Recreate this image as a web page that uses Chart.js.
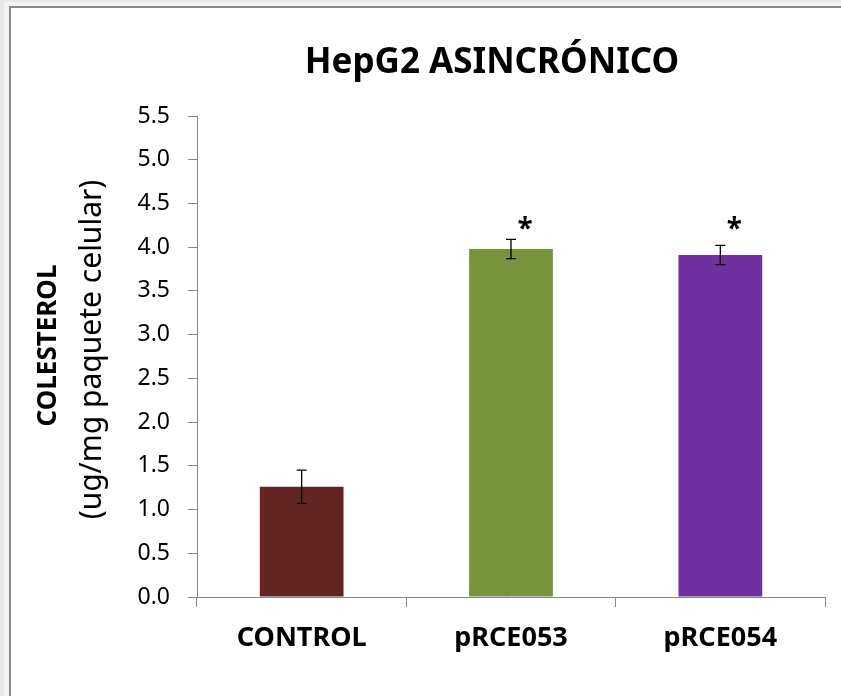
<!DOCTYPE html>
<html>
<head>
<meta charset="utf-8">
<script src="https://cdn.jsdelivr.net/npm/chart.js@4.4.1/dist/chart.umd.min.js"></script>
<style>
  html, body { margin: 0; padding: 0; overflow: hidden; background: #f2f2f2; }
  #chart { display: block; }
</style>
</head>
<body>
<canvas id="chart" width="841" height="696"></canvas>
<script>
// data
const categories = ['CONTROL', 'pRCE053', 'pRCE054'];
const values = [1.26, 3.98, 3.91];
const errors = [0.19, 0.11, 0.11];
const significance = ['', '*', '*'];

const barColors = ['#632523', '#77933c', '#7030a0'];
const FONT = "'Noto Sans', sans-serif";

// white sheet with a grey frame on its top and left edges
const sheet = {
    id: 'sheet',
    beforeDraw(chart) {
        const ctx = chart.ctx;
        ctx.save();
        ctx.fillStyle = '#e9e9e9';
        ctx.fillRect(0, 0, chart.width, chart.height);
        ctx.fillStyle = '#f4f4f4';
        ctx.fillRect(4, 2, chart.width, chart.height);
        ctx.fillStyle = '#fff';
        ctx.fillRect(10, 7, chart.width, chart.height);
        ctx.strokeStyle = '#8a8a8a';
        ctx.lineWidth = 2;
        ctx.beginPath();
        ctx.moveTo(10, chart.height);
        ctx.lineTo(10, 7);
        ctx.lineTo(chart.width, 7);
        ctx.stroke();
        ctx.restore();
    }
};

// error bars + asterisks + titles drawn on top of the bars
const extras = {
    id: 'extras',
    afterDatasetsDraw(chart) {
        const ctx = chart.ctx;
        const y = chart.scales.y;
        const bars = chart.getDatasetMeta(0).data;
        ctx.save();
        ctx.strokeStyle = '#000';
        ctx.lineWidth = 1.3;
        let topMost = Infinity;
        bars.forEach((bar, i) => {
            const hi = y.getPixelForValue(values[i] + errors[i]);
            const lo = y.getPixelForValue(values[i] - errors[i]);
            topMost = Math.min(topMost, hi);
            ctx.beginPath();
            ctx.moveTo(bar.x, hi); ctx.lineTo(bar.x, lo);
            ctx.moveTo(bar.x - 5, hi); ctx.lineTo(bar.x + 5, hi);
            ctx.moveTo(bar.x - 5, lo); ctx.lineTo(bar.x + 5, lo);
            ctx.stroke();
        });
        ctx.fillStyle = '#000';
        ctx.font = 'bold 28px ' + FONT;
        ctx.textAlign = 'center';
        ctx.textBaseline = 'middle';
        bars.forEach((bar, i) => {
            if (significance[i]) ctx.fillText(significance[i], bar.x + 14, topMost - 9);
        });
        ctx.restore();
    },
    afterDraw(chart) {
        const ctx = chart.ctx;
        const area = chart.chartArea;
        ctx.save();
        ctx.fillStyle = '#000';
        ctx.textAlign = 'center';
        ctx.textBaseline = 'alphabetic';
        ctx.font = 'bold 35px ' + FONT;
        ctx.fillText('HepG2 ASINCRÓNICO', 492, 73);

        const cy = (area.top + area.bottom) / 2 - 11;
        ctx.translate(0, cy);
        ctx.rotate(-Math.PI / 2);
        ctx.font = 'bold 26px ' + FONT;
        ctx.fillText('COLESTEROL', 0, 56);
        ctx.font = '30px ' + FONT;
        ctx.fillText('(ug/mg paquete celular)', -4, 101);
        ctx.restore();
    }
};

new Chart(document.getElementById('chart'), {
    type: 'bar',
    data: {
        labels: categories,
        datasets: [{
            data: values,
            backgroundColor: barColors,
            borderWidth: 0,
            categoryPercentage: 1,
            barPercentage: 0.4
        }]
    },
    options: {
        responsive: false,
        animation: false,
        layout: { padding: { top: 116, right: 16, bottom: 0, left: 0 } },
        plugins: { legend: { display: false }, tooltip: { enabled: false } },
        scales: {
            x: {
                afterFit(scale) { scale.height = 99; },
                grid: { drawOnChartArea: false, tickLength: 10, color: '#868686' },
                border: { color: '#868686' },
                ticks: { padding: 15, color: '#000', font: { family: FONT, size: 27, weight: 'bold' } }
            },
            y: {
                min: 0,
                max: 5.5,
                afterFit(scale) { scale.width = 197; },
                grid: { drawOnChartArea: false, tickLength: 9, color: '#868686' },
                border: { color: '#868686' },
                ticks: {
                    stepSize: 0.5,
                    padding: 18,
                    color: '#000',
                    font: { family: FONT, size: 23 },
                    callback: v => v.toFixed(1)
                }
            }
        }
    },
    plugins: [sheet, extras]
});
</script>
</body>
</html>
